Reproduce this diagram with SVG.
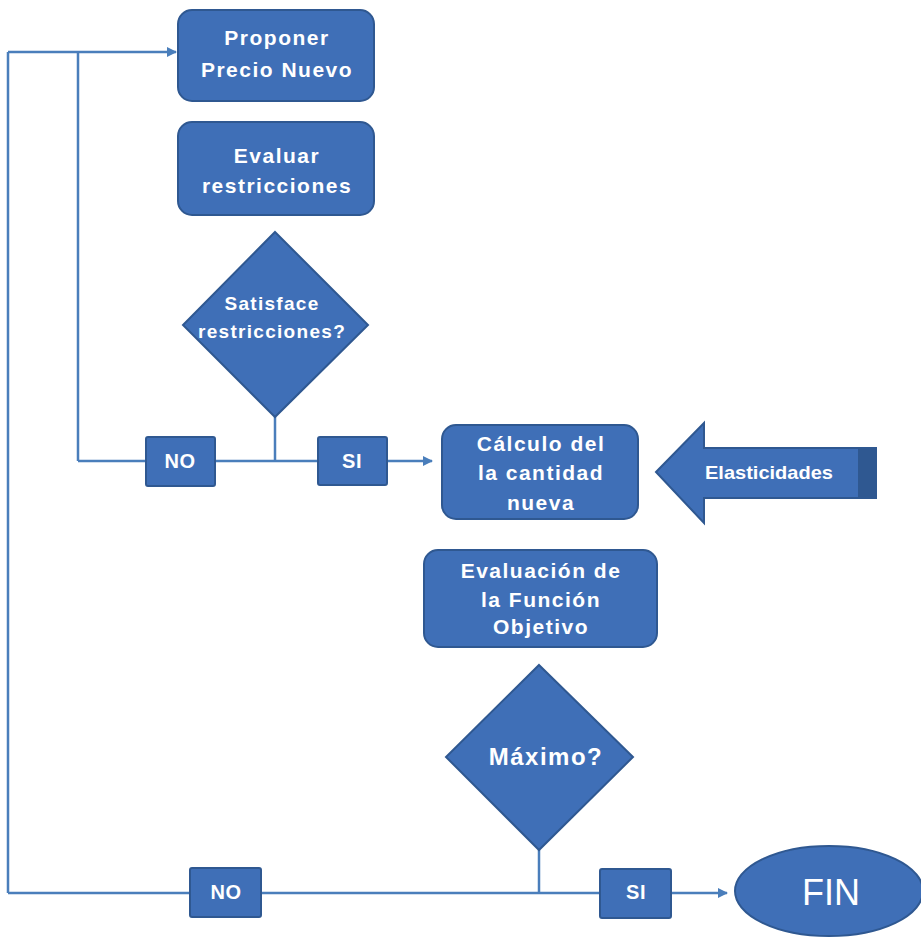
<svg xmlns="http://www.w3.org/2000/svg" width="921" height="939" viewBox="0 0 921 939">
<style>
.n{fill:#3F6FB7;stroke:#2F5891;stroke-width:2}
.t{fill:#fff;font-family:"Liberation Sans",Arial,sans-serif;font-weight:bold;text-anchor:middle}
.b{font-size:21px;letter-spacing:1.5px}
.d{font-size:19px;letter-spacing:1.3px}
.s{font-size:20px;letter-spacing:0.5px}
.c{fill:none;stroke:#4A7EBB;stroke-width:2.5}
</style>
<defs>
<marker id="a" markerWidth="10" markerHeight="10" refX="9" refY="5" orient="auto" markerUnits="userSpaceOnUse">
<path d="M0,0 L10,5 L0,10 Z" fill="#4A7EBB"/>
</marker>
</defs>
<g id="connectors">
<path class="c" d="M275,417 V461"/>
<path class="c" d="M78,461 H432" marker-end="url(#a)"/>
<path class="c" d="M78,461 V52"/>
<path class="c" d="M8,52 H176" marker-end="url(#a)"/>
<path class="c" d="M8,52 V893"/>
<path class="c" d="M539,850 V893"/>
<path class="c" d="M8,893 H727" marker-end="url(#a)"/>
</g>
<g id="proponer"><rect class="n" x="178" y="10" width="196" height="91" rx="14"/>
<text class="t b" x="277" y="45">Proponer</text><text class="t b" x="277" y="77">Precio Nuevo</text></g>
<g id="evaluar"><rect class="n" x="178" y="122" width="196" height="93" rx="14"/>
<text class="t b" x="277" y="163">Evaluar</text><text class="t b" x="277" y="193">restricciones</text></g>
<g id="satisface"><path class="n" d="M275,232 L368,325 L275,417 L183,325 Z"/>
<text class="t d" x="272" y="310">Satisface</text><text class="t d" x="272" y="338">restricciones?</text></g>
<g id="no1"><rect class="n" x="146" y="437" width="69" height="49" rx="2"/><text class="t s" x="180" y="468">NO</text></g>
<g id="si1"><rect class="n" x="318" y="437" width="69" height="48" rx="2"/><text class="t s" x="352" y="468">SI</text></g>
<g id="calculo"><rect class="n" x="442" y="425" width="196" height="94" rx="14"/>
<text class="t b" x="541" y="451">Cálculo del</text><text class="t b" x="541" y="480">la cantidad</text><text class="t b" x="541" y="510">nueva</text></g>
<g id="elasticidades"><path class="n" d="M656,472 L704,423 L704,448 L876,448 L876,498 L704,498 L704,523 Z"/>
<rect x="858" y="449" width="17" height="48" fill="#2F5891"/>
<text class="t" font-size="19" x="769" y="479" textLength="128" lengthAdjust="spacingAndGlyphs">Elasticidades</text></g>
<g id="evaluacion"><rect class="n" x="424" y="550" width="233" height="97" rx="14"/>
<text class="t b" x="541" y="578">Evaluación de</text><text class="t b" x="541" y="607">la Función</text><text class="t b" x="541" y="634">Objetivo</text></g>
<g id="maximo"><path class="n" d="M539,665 L633,757 L539,850 L446,757 Z"/>
<text class="t" font-size="24" letter-spacing="1.5" x="546" y="765">Máximo?</text></g>
<g id="no2"><rect class="n" x="190" y="868" width="71" height="49" rx="2"/><text class="t s" x="226" y="899">NO</text></g>
<g id="si2"><rect class="n" x="600" y="869" width="71" height="49" rx="2"/><text class="t s" x="636" y="899">SI</text></g>
<g id="fin"><ellipse class="n" cx="829" cy="891" rx="94" ry="45"/>
<text x="831" y="905" fill="#fff" font-family="Liberation Sans,Arial,sans-serif" font-size="36" text-anchor="middle">FIN</text></g>
</svg>
